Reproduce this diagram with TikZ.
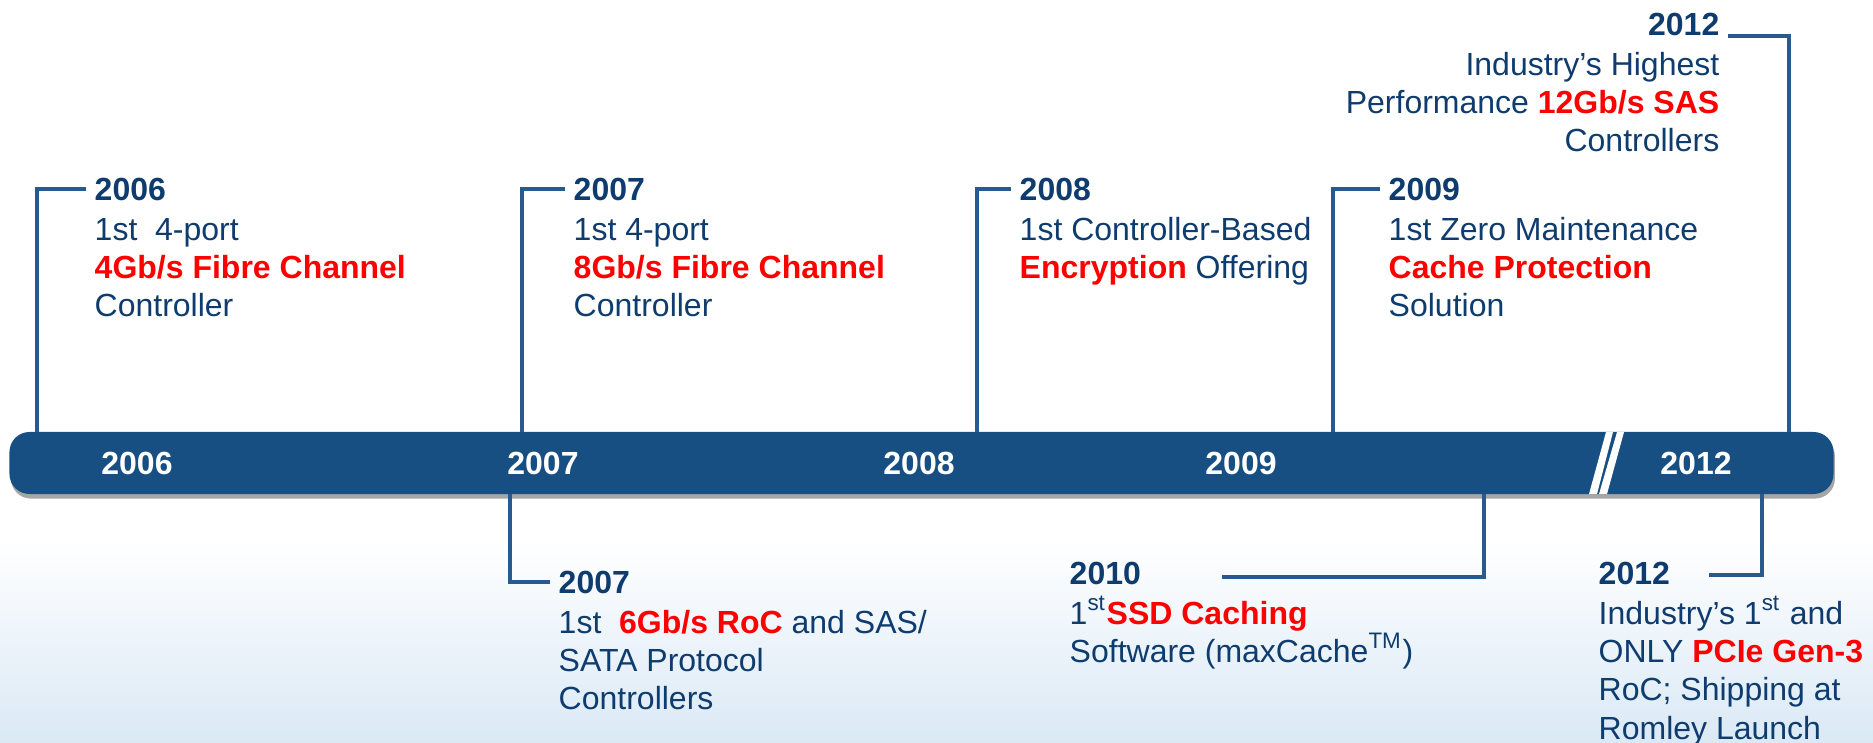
\documentclass[tikz,border=0pt]{standalone}
\usepackage{fontspec}
\setmainfont{Liberation Sans}
\usetikzlibrary{positioning,shadows}

\definecolor{barblue}{HTML}{174F83}
\definecolor{txtblue}{HTML}{0F3C6E}
\definecolor{lnblue}{HTML}{285A8E}
\definecolor{hired}{HTML}{FF0000}
\definecolor{bgblue}{HTML}{DAE9F5}

\tikzset{
  yr/.style={font=\fontsize{9.1}{10.9}\selectfont\bfseries, text=txtblue, inner xsep=0.08cm, inner ysep=0pt},
  desc/.style={font=\fontsize{9.1}{10.9}\selectfont, text=txtblue, inner sep=0pt},
  barlbl/.style={font=\fontsize{9.1}{10.9}\selectfont\bfseries, text=white},
  link/.style={draw=lnblue, line width=0.9pt},
}
\newcommand{\hl}[1]{\textcolor{hired}{\textbf{#1}}}
\newcommand{\fs}{\rule{0pt}{9pt}}

\begin{document}
\begin{tikzpicture}[x=0.01cm, y=-0.01cm]
\useasboundingbox (0,0) rectangle (1873,743);
% background
\shade[top color=white, bottom color=bgblue] (0,540) rectangle (1873,743);

% time bar
\node[fill=barblue, rounded corners=0.2cm, minimum width=18.23cm, minimum height=0.62cm, inner sep=0pt,
      drop shadow={shadow xshift=0.4pt, shadow yshift=-1.3pt, opacity=0.35, fill=black}] (bar) at (921.5,463) {};
\fill[white] (1589,494) -- (1606,432) -- (1613,432) -- (1597,494) -- cycle;
\fill[white] (1599,494) -- (1617,432) -- (1624,432) -- (1607,494) -- cycle;
\node[barlbl] (l06) at (137,463) {2006};
\node[barlbl] (l07) at (543,463) {2007};
\node[barlbl] (l08) at (919,463) {2008};
\node[barlbl] (l09) at (1241,463) {2009};
\node[barlbl] (l12) at (1696,463) {2012};

% events above
\node[yr, anchor=west] (y06) at (86,189) {2006};
\node[desc, anchor=north west, align=left] (d06) at ([xshift=0.08cm, yshift=-1.9pt]y06.south west)
  {\fs 1st\ \ 4-port\\ \hl{4Gb/s Fibre Channel}\\ Controller};
\node[yr, anchor=west] (y07t) at (565,189) {2007};
\node[desc, anchor=north west, align=left] (d07t) at ([xshift=0.08cm, yshift=-1.9pt]y07t.south west)
  {\fs 1st 4-port\\ \hl{8Gb/s Fibre Channel}\\ Controller};
\node[yr, anchor=west] (y08) at (1011,189) {2008};
\node[desc, anchor=north west, align=left] (d08) at ([xshift=0.08cm, yshift=-1.9pt]y08.south west)
  {\fs 1st Controller-Based\\ \hl{Encryption} Offering};
\node[yr, anchor=west] (y09) at (1380,189) {2009};
\node[desc, anchor=north west, align=left] (d09) at ([xshift=0.08cm, yshift=-1.9pt]y09.south west)
  {\fs 1st Zero Maintenance\\ \hl{Cache Protection}\\ Solution};
\node[yr, anchor=east] (y12t) at (1728,24) {2012};
\node[desc, anchor=north east, align=right] (d12t) at ([xshift=-0.08cm, yshift=-1.9pt]y12t.south east)
  {\fs Industry's Highest\\ Performance \hl{12Gb/s SAS}\\ Controllers};

% events below
\node[yr, anchor=west] (y07b) at (550,582) {2007};
\node[desc, anchor=north west, align=left] (d07b) at ([xshift=0.08cm, yshift=-1.9pt]y07b.south west)
  {\fs 1st\ \ \hl{6Gb/s RoC} and SAS/\\ SATA Protocol\\ Controllers};
\node[yr, anchor=west] (y10) at (1061,573) {2010};
\node[desc, anchor=north west, align=left] (d10) at ([xshift=0.08cm, yshift=-1.9pt]y10.south west)
  {\fs 1\textsuperscript{st}\hl{SSD Caching}\\ Software (maxCache\textsuperscript{TM})};
\node[yr, anchor=west] (y12b) at (1590,573) {2012};
\node[desc, anchor=north west, align=left] (d12b) at ([xshift=0.08cm, yshift=-1.9pt]y12b.south west)
  {\fs Industry's 1\textsuperscript{st} and\\ ONLY \hl{PCIe Gen-3}\\ RoC; Shipping at\\ Romley Launch};

% connectors
\coordinate (b06) at (37,432);
\coordinate (b07t) at (522,432);
\coordinate (b08) at (977,432);
\coordinate (b09) at (1333,432);
\coordinate (b12t) at (1789,432);
\coordinate (b07b) at (510,494);
\coordinate (b10) at (1484,494);
\coordinate (e10) at (1222,577);
\coordinate (b12b) at (1762,494);
\coordinate (e12) at (1709,575);
\draw[link] (b06) |- (y06.west);
\draw[link] (b07t) |- (y07t.west);
\draw[link] (b08) |- (y08.west);
\draw[link] (b09) |- (y09.west);
\draw[link] (b12t) |- (y12t.south east);
\draw[link] (b07b) |- (y07b.west);
\draw[link] (b10) |- (e10);
\draw[link] (b12b) |- (e12);
\end{tikzpicture}
\end{document}
